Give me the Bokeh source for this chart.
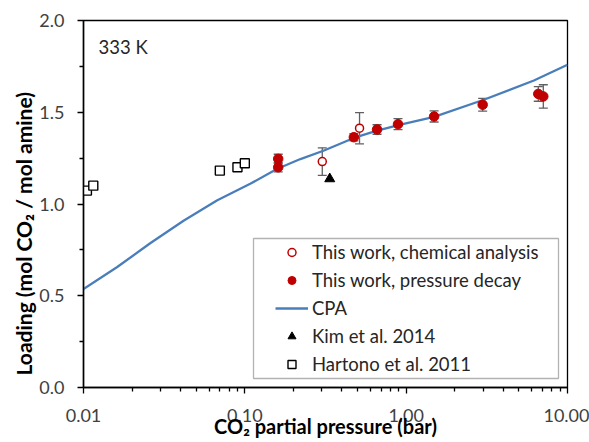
from bokeh.plotting import figure
from bokeh.models import (FixedTicker, CustomJSTickFormatter, Legend, LegendItem,
                          Whisker, ColumnDataSource, Label, BoxAnnotation, TeeHead, Title)
from bokeh.embed import file_html
from bokeh.resources import INLINE

# ---------------- data ----------------
chem_p = [0.302, 0.514]
chem_load = [1.231, 1.413]
chem_err = [0.075, 0.085]

decay_p = [0.161, 0.161, 0.474, 0.66, 0.89, 1.49, 2.98, 6.59, 7.08]
decay_load = [1.246, 1.200, 1.364, 1.406, 1.435, 1.477, 1.541, 1.600, 1.586]
decay_err = [0.025, 0.025, 0.02, 0.026, 0.03, 0.03, 0.035, 0.04, 0.064]

cpa_p = [0.01, 0.0161, 0.0259, 0.0417, 0.0671, 0.108, 0.158, 0.221, 0.307,
         0.474, 0.66, 0.923, 1.49, 3.03, 6.19, 10.0]
cpa_load = [0.537, 0.655, 0.786, 0.909, 1.019, 1.110, 1.191, 1.245, 1.290,
            1.360, 1.400, 1.433, 1.475, 1.568, 1.673, 1.759]

kim_p = [0.336]
kim_load = [1.137]

hart_p = [0.0105, 0.0115, 0.070, 0.090, 0.100]
hart_load = [1.073, 1.100, 1.182, 1.200, 1.222]

x_ticks = [0.01, 0.1, 1.0, 10.0]
y_ticks = [0.0, 0.5, 1.0, 1.5, 2.0]

legend_labels = ["This work, chemical analysis", "This work, pressure decay", "CPA",
                 "Kim et al. 2014", "Hartono et al. 2011"]
temp_label = "333 K"
x_title = "CO\u2082 partial pressure (bar)"
y_title = "Loading (mol CO\u2082 / mol amine)"

# ---------------- style ----------------
FONT = "Lato"
RED = "#C00000"
BLUE = "#4A7EBB"
ERR = "#606060"

p = figure(width=589, height=442, x_axis_type="log", x_range=(0.01, 10), y_range=(0, 2),
           output_backend="svg", toolbar_location=None,
           min_border_left=83, min_border_right=22, min_border_top=20, min_border_bottom=55)
p.xgrid.visible = False
p.ygrid.visible = False
p.outline_line_color = "black"
p.outline_line_width = 1.3
p.background_fill_color = "white"

minor_x = [m * d for d in (0.01, 0.1, 1.0) for m in range(2, 10)]
p.xaxis.ticker = FixedTicker(ticks=x_ticks, minor_ticks=minor_x)
p.yaxis.ticker = FixedTicker(ticks=y_ticks, minor_ticks=[0.25, 0.75, 1.25, 1.75])
p.xaxis.formatter = CustomJSTickFormatter(code="return tick.toFixed(2);")
p.yaxis.formatter = CustomJSTickFormatter(code="return tick.toFixed(1);")
for ax in (p.xaxis, p.yaxis):
    ax.axis_line_color = "black"
    ax.axis_line_width = 1.5
    ax.major_tick_line_color = "black"
    ax.minor_tick_line_color = "black"
    ax.major_tick_line_width = 1.3
    ax.minor_tick_line_width = 1.3
    ax.major_tick_in = 0
    ax.major_tick_out = 6
    ax.minor_tick_in = 0
    ax.minor_tick_out = 4
    ax.major_label_text_font = FONT
    ax.major_label_text_font_size = "18px"
    ax.major_label_text_color = "#404040"
p.yaxis.major_label_standoff = 13
p.xaxis.major_label_standoff = 15

p.xaxis.axis_label = x_title
p.xaxis.axis_label_text_font = FONT
p.xaxis.axis_label_text_font_size = "20px"
p.xaxis.axis_label_text_font_style = "bold"
p.xaxis.axis_label_text_color = "black"
p.xaxis.axis_label_standoff = -11

# error bars (under markers)
chem_src = ColumnDataSource(dict(x=chem_p, y=chem_load,
                                 lo=[v - e for v, e in zip(chem_load, chem_err)],
                                 hi=[v + e for v, e in zip(chem_load, chem_err)]))
decay_src = ColumnDataSource(dict(x=decay_p, y=decay_load,
                                  lo=[v - e for v, e in zip(decay_load, decay_err)],
                                  hi=[v + e for v, e in zip(decay_load, decay_err)]))
for src in (chem_src, decay_src):
    w = Whisker(source=src, base="x", upper="hi", lower="lo", dimension="height",
                line_color=ERR, line_width=1.3, level="underlay",
                upper_head=TeeHead(size=9, line_color=ERR, line_width=1.3),
                lower_head=TeeHead(size=9, line_color=ERR, line_width=1.3))
    p.add_layout(w)

r_cpa = p.line(cpa_p, cpa_load, line_color=BLUE, line_width=2.3)
r_hart = p.scatter(hart_p, hart_load, marker="square", size=9, fill_color="white",
                   line_color="black", line_width=1.4)
r_kim = p.scatter(kim_p, kim_load, marker="triangle", size=10, fill_color="black",
                  line_color="black")
r_decay = p.scatter("x", "y", source=decay_src, marker="circle", size=9.5,
                    fill_color=RED, line_color=RED)
r_chem = p.scatter("x", "y", source=chem_src, marker="circle", size=8,
                   fill_color="white", line_color=RED, line_width=1.5)

# legend frame
box = BoxAnnotation(left=170, right=475, bottom=9, top=149,
                    left_units="screen", right_units="screen",
                    bottom_units="screen", top_units="screen",
                    fill_color="white", fill_alpha=1.0, line_color="black", line_width=1.3)
p.add_layout(box)

legend = Legend(items=[LegendItem(label=legend_labels[0], renderers=[r_chem]),
                       LegendItem(label=legend_labels[1], renderers=[r_decay]),
                       LegendItem(label=legend_labels[2], renderers=[r_cpa]),
                       LegendItem(label=legend_labels[3], renderers=[r_kim]),
                       LegendItem(label=legend_labels[4], renderers=[r_hart])],
                location=(192, 12), padding=0, spacing=6, glyph_height=20, glyph_width=33,
                label_height=20, label_standoff=4, border_line_alpha=0,
                background_fill_alpha=0, label_text_font=FONT,
                label_text_font_size="18.5px", label_text_color="#262626")
p.add_layout(legend)

p.add_layout(Label(x=15, y=341, x_units="screen", y_units="screen", text=temp_label,
                   text_font=FONT, text_font_size="18.5px", text_color="#262626",
                   text_baseline="middle"))

ytitle = Title(text=y_title, align="left", offset=12, text_font=FONT,
               text_font_size="21px", text_font_style="bold", text_color="black",
               standoff=2)
p.add_layout(ytitle, "left")

open("out.html", "w").write(file_html(p, INLINE))
